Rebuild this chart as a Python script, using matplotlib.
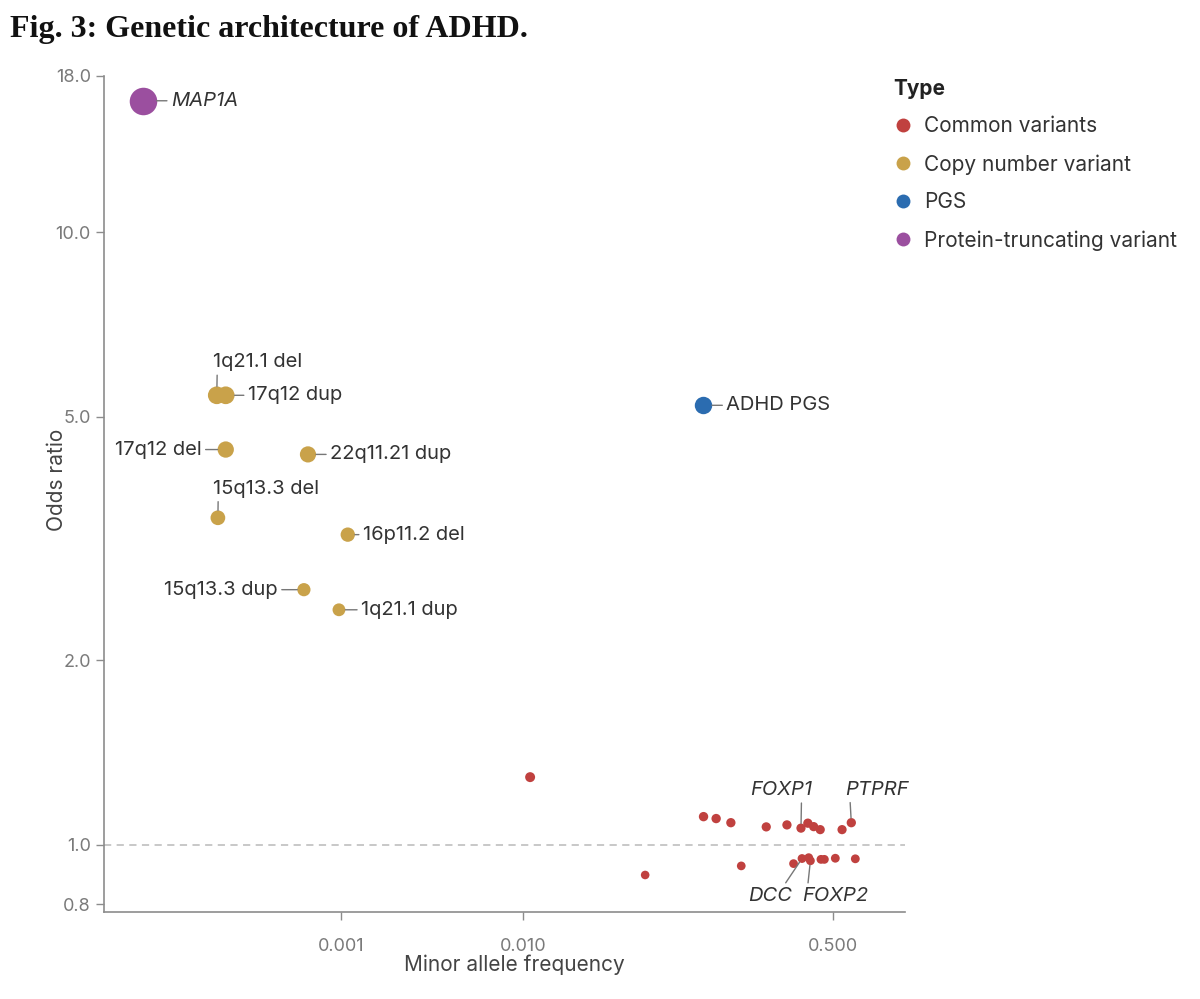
import matplotlib.pyplot as plt
from matplotlib.lines import Line2D

plt.rcParams['font.family'] = ['Inter', 'DejaVu Sans']

# 数值从图中估读
ptv_names = ['MAP1A']
ptv_maf = [8.17e-5]
ptv_or = [16.4]

cnv_names = ['1q21.1 del', '17q12 dup', '17q12 del', '22q11.21 dup',
             '15q13.3 del', '16p11.2 del', '15q13.3 dup', '1q21.1 dup']
cnv_maf = [2.08e-4, 2.33e-4, 2.33e-4, 6.59e-4, 2.11e-4, 1.09e-3, 6.26e-4, 9.75e-4]
cnv_or = [5.42, 5.42, 4.42, 4.34, 3.42, 3.21, 2.61, 2.42]

pgs_names = ['ADHD PGS']
pgs_maf = [0.0975]
pgs_or = [5.22]

common_maf = [0.01093, 0.0468, 0.0979, 0.1148, 0.1383, 0.1577, 0.2163, 0.281,
              0.3055, 0.3356, 0.340, 0.366, 0.370, 0.378, 0.394, 0.428,
              0.432, 0.451, 0.518, 0.564, 0.634, 0.667]
common_or = [1.29, 0.893, 1.112, 1.104, 1.087, 0.924, 1.070, 1.078,
             0.932, 1.065, 0.950, 1.085, 0.953, 0.942, 1.071, 1.059,
             0.947, 0.947, 0.951, 1.059, 1.087, 0.949]
common_names = {9: 'FOXP1', 10: 'DCC', 13: 'FOXP2', 20: 'PTPRF'}

type_labels = ['Common variants', 'Copy number variant', 'PGS', 'Protein-truncating variant']
colors = ['#c0413f', '#c9a24a', '#2b6cb0', '#9b4f9f']

y_ticks = [0.8, 1.0, 2.0, 5.0, 10.0, 18.0]
x_ticks = [0.001, 0.01, 0.5]
x_ticklabels = ['0.001', '0.010', '0.500']

PX = 0.72  # 1 像素 = 0.72 pt (dpi 100)


def radius_pt(o):
    # 点的大小随 odds ratio 变大
    return 4.5 * o ** 0.4 * PX


def sizes(ors):
    return [(2 * radius_pt(o)) ** 2 for o in ors]


fig = plt.figure(figsize=(12, 9.99), dpi=100)
ax = fig.add_axes([104 / 1200, 87 / 999, (905 - 104) / 1200, (912 - 76) / 999])

ax.set_xscale('log')
ax.set_yscale('log')
ax.set_xlim(5e-5, 1.25)
ax.set_ylim(0.777, 18.0)

ax.axhline(1.0, color='#c4c4c4', lw=1.3, ls=(0, (4, 3)), zorder=0)

ax.scatter(common_maf, common_or, s=sizes(common_or), color=colors[0], lw=0, zorder=3)
ax.scatter(cnv_maf, cnv_or, s=sizes(cnv_or), color=colors[1], lw=0, zorder=3)
ax.scatter(pgs_maf, pgs_or, s=sizes(pgs_or), color=colors[2], lw=0, zorder=3)
ax.scatter(ptv_maf, ptv_or, s=sizes(ptv_or), color=colors[3], lw=0, zorder=3)


def label(x, y, text, dx, dy, ha='left', relpos=(0, 0.5), italic=False):
    ax.annotate(text, xy=(x, y), xytext=(dx * PX, dy * PX), textcoords='offset points',
                ha=ha, va='center', fontsize=14.5, color='#333333',
                style='italic' if italic else 'normal',
                arrowprops=dict(arrowstyle='-', color='#777777', lw=1.0,
                                relpos=relpos, shrinkA=0.8, shrinkB=radius_pt(y)))


# 标签偏移 (像素)
cnv_offsets = {
    '1q21.1 del': (-4, 33, 'left', (0.05, 0)),
    '17q12 dup': (22, 0, 'left', (0, 0.5)),
    '17q12 del': (-24, 0, 'right', (1, 0.5)),
    '22q11.21 dup': (22, 0, 'left', (0, 0.5)),
    '15q13.3 del': (-5, 29, 'left', (0.05, 0)),
    '16p11.2 del': (15, 0, 'left', (0, 0.5)),
    '15q13.3 dup': (-26, 0, 'right', (1, 0.5)),
    '1q21.1 dup': (22, 0, 'left', (0, 0.5)),
}
for name, xv, yv in zip(cnv_names, cnv_maf, cnv_or):
    dx, dy, ha, rp = cnv_offsets[name]
    label(xv, yv, name, dx, dy, ha, rp)

label(ptv_maf[0], ptv_or[0], ptv_names[0], 28, 0, italic=True)
label(pgs_maf[0], pgs_or[0], pgs_names[0], 23, 0)

gene_offsets = {
    'FOXP1': (-20, 38, 'center', (0.83, 0)),
    'PTPRF': (26, 33, 'center', (0.07, 0)),
    'DCC': (-32, -37, 'center', (0.8, 1)),
    'FOXP2': (25, -35, 'center', (0.08, 1)),
}
for i, name in common_names.items():
    dx, dy, ha, rp = gene_offsets[name]
    label(common_maf[i], common_or[i], name, dx, dy, ha, rp, italic=True)

# 坐标轴样式
for side in ['top', 'right']:
    ax.spines[side].set_visible(False)
for side in ['left', 'bottom']:
    ax.spines[side].set_color('#8c8c8c')
    ax.spines[side].set_linewidth(1.2)

ax.set_yticks(y_ticks)
ax.set_yticklabels(['%.1f' % v for v in y_ticks])
ax.set_xticks(x_ticks)
ax.set_xticklabels(x_ticklabels)
ax.minorticks_off()
ax.tick_params(colors='#8c8c8c', labelcolor='#7a7a7a', labelsize=13, length=6, width=1.0)
ax.tick_params(axis='x', pad=13)

ax.set_xlabel('Minor allele frequency', fontsize=15, color='#444444')
ax.xaxis.set_label_coords(0.512, -0.051)
ax.set_ylabel('Odds ratio', fontsize=15, color='#444444')
ax.yaxis.set_label_coords(-0.046, 0.517)

# 图例
handles = [Line2D([], [], ls='none', marker='o', markersize=10, color=c, markeredgewidth=0)
           for c in colors]
leg = fig.legend(handles, type_labels, loc='upper left', bbox_to_anchor=(874 / 1200, 1 - 60 / 999),
                 frameon=False, title='Type', fontsize=15, title_fontsize=15,
                 alignment='left', labelspacing=0.85, handletextpad=0.5, handlelength=1.0)
leg.get_title().set_fontweight('bold')
leg.get_title().set_color('#222222')
for t in leg.get_texts():
    t.set_color('#333333')

fig.text(10 / 1200, 1 - 30 / 999, 'Fig. 3: Genetic architecture of ADHD.',
         fontsize=23, fontweight='bold', family='Liberation Serif', va='center', ha='left',
         color='#111111')

fig.savefig('out.png', dpi=100)
